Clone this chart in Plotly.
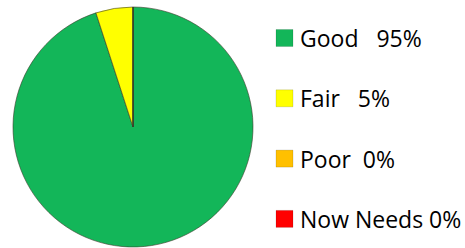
import plotly.graph_objects as go

labels = ["Good", "Fair", "Poor", "Now Needs"]
values = [95, 5, 0, 0]
legend_text = ["Good   95%", "Fair   5%", "Poor  0%", "Now Needs 0%"]
colors = ["#13B659", "#FFFF00", "#FFC000", "#FF0000"]

W, H = 465, 248
cx, cy, r = 133, 127, 120

fig = go.Figure(go.Pie(
    labels=labels, values=values, sort=False, direction="clockwise", rotation=0,
    marker=dict(colors=colors, line=dict(color="#3a3a2a", width=0.6)),
    textinfo="none", hoverinfo="label+percent", showlegend=False,
    domain=dict(x=[(cx - r) / W, (cx + r) / W], y=[(H - cy - r) / H, (H - cy + r) / H]),
))

shapes, annotations = [], []
row_y0, row_gap, sq = 38, 60.3, 17
for i, (t, c) in enumerate(zip(legend_text, colors)):
    yc = row_y0 + i * row_gap
    shapes.append(dict(type="rect", xref="paper", yref="paper",
                       x0=276 / W, x1=(276 + sq) / W,
                       y0=1 - (yc + sq / 2) / H, y1=1 - (yc - sq / 2) / H,
                       fillcolor=c, line=dict(color="rgba(0,0,0,0.25)", width=0.5)))
    annotations.append(dict(xref="paper", yref="paper", x=298 / W, y=1 - (yc) / H,
                            xanchor="left", yanchor="middle", text=t, showarrow=False,
                            font=dict(family="Open Sans", size=23, color="#000000")))

fig.update_layout(width=W, height=H, margin=dict(l=0, r=0, t=0, b=0),
                  paper_bgcolor="white", plot_bgcolor="white",
                  shapes=shapes, annotations=annotations)
fig.write_html("out.html", config={"displayModeBar": False},
               post_script="document.body.style.margin='0';document.body.style.overflow='hidden';")
